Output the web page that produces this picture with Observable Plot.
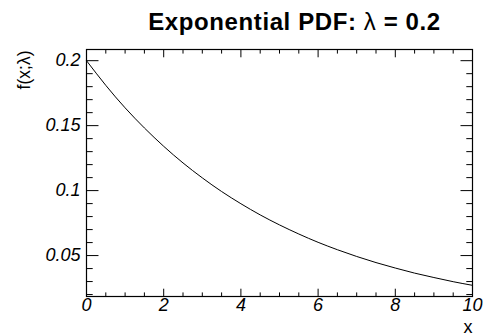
<!DOCTYPE html>
<html>
<head>
<meta charset="utf-8">
<script src="https://cdn.jsdelivr.net/npm/d3@7"></script>
<script src="https://cdn.jsdelivr.net/npm/@observablehq/plot@0.6"></script>
<style>
  html, body { margin: 0; padding: 0; background: #fff; }
  svg { display: block; }
</style>
</head>
<body>
<div id="chart"></div>
<script>
const titleParts = ["Exponential PDF: ", "λ", " = 0.2"];
const titleText = titleParts.join("");
const xLabel = "x";
const yLabel = "f(x;λ)";

const xs = [0, 0.5, 1, 1.5, 2, 2.5, 3, 3.5, 4, 4.5, 5, 5.5, 6, 6.5, 7, 7.5, 8, 8.5, 9, 9.5, 10];
const fx = [0.2, 0.1810, 0.1637, 0.1482, 0.1341, 0.1213, 0.1098, 0.0993, 0.0899, 0.0813, 0.0736,
            0.0666, 0.0602, 0.0545, 0.0493, 0.0446, 0.0404, 0.0365, 0.0331, 0.0299, 0.0271];

const xMajor = [0, 2, 4, 6, 8, 10];
const xMajorLabels = ["0", "2", "4", "6", "8", "10"];
const xMinor = [0.5, 1, 1.5, 2.5, 3, 3.5, 4.5, 5, 5.5, 6.5, 7, 7.5, 8.5, 9, 9.5];
const yMajor = [0.05, 0.1, 0.15, 0.2];
const yMajorLabels = ["0.05", "0.1", "0.15", "0.2"];
const yMinor = [0.02, 0.03, 0.04, 0.06, 0.07, 0.08, 0.09, 0.11, 0.12, 0.13, 0.14, 0.16, 0.17, 0.18, 0.19];

const xDomain = [0, 10];
const yDomain = [0.0185, 0.2086];

const data = xs.map((x, i) => ({x, y: fx[i]}));

const tickShape = {draw(ctx, l) { ctx.moveTo(0, 0); ctx.lineTo(0, -l); }};
const font = "Liberation Sans, Arial, Helvetica, sans-serif";

function ticks(values, channel, anchor, len, rotate) {
  const o = {frameAnchor: anchor, length: len, rotate, anchor: "start", shape: tickShape, stroke: "black", strokeWidth: 1};
  o[channel] = d => d;
  return Plot.vector(values, o);
}

const chart = Plot.plot({
  width: 484,
  height: 336,
  marginLeft: 86,
  marginRight: 12,
  marginTop: 49,
  marginBottom: 40,
  style: {fontFamily: font, background: "white"},
  x: {domain: xDomain, axis: null},
  y: {domain: yDomain, axis: null},
  marks: [
    Plot.frame({stroke: "black", strokeWidth: 1.2}),
    ticks(xMajor, "x", "bottom", 7.4, 0),
    ticks(xMinor, "x", "bottom", 3.7, 0),
    ticks(xMajor, "x", "top", 7.4, 180),
    ticks(xMinor, "x", "top", 3.7, 180),
    ticks(yMajor, "y", "left", 11.6, 90),
    ticks(yMinor, "y", "left", 5.8, 90),
    ticks(yMajor, "y", "right", 11.6, -90),
    ticks(yMinor, "y", "right", 5.8, -90),
    Plot.line(data, {x: "x", y: "y", stroke: "black", strokeWidth: 1, curve: "natural"}),
    Plot.text(xMajor, {x: d => d, text: (d, i) => xMajorLabels[i], frameAnchor: "bottom", dy: 14,
      fontSize: 18, fontStyle: "italic", fill: "black"}),
    Plot.text(yMajor, {y: d => d, text: (d, i) => yMajorLabels[i], frameAnchor: "left", dx: -6, textAnchor: "end",
      fontSize: 18, fontStyle: "italic", fill: "black"}),
    Plot.text([xLabel], {text: d => d, frameAnchor: "bottom-right", dy: 36, textAnchor: "end", lineAnchor: "bottom",
      fontSize: 18, fill: "black"}),
    Plot.text([yLabel], {text: d => d, frameAnchor: "top-left", dx: -56.5, dy: 1, rotate: -90, textAnchor: "end", lineAnchor: "bottom",
      fontSize: 17.5, fill: "black"}),
    Plot.text([titleText], {text: d => d, frameAnchor: "top", dx: 15, dy: -20, lineAnchor: "bottom",
      fontSize: 24, fontWeight: "bold", fill: "black"})
  ]
});
document.getElementById("chart").appendChild(chart);

// Title: keep λ in normal weight like the reference, widen letter spacing slightly
d3.select(chart).selectAll("text").filter(function() { return this.textContent === titleText; })
  .each(function() {
    const t = d3.select(this);
    t.text(null).style("letter-spacing", "0.6px");
    titleParts.forEach((p, i) => {
      const s = t.append("tspan").text(p);
      if (i === 1) s.attr("font-weight", "normal");
    });
  });
</script>
</body>
</html>
